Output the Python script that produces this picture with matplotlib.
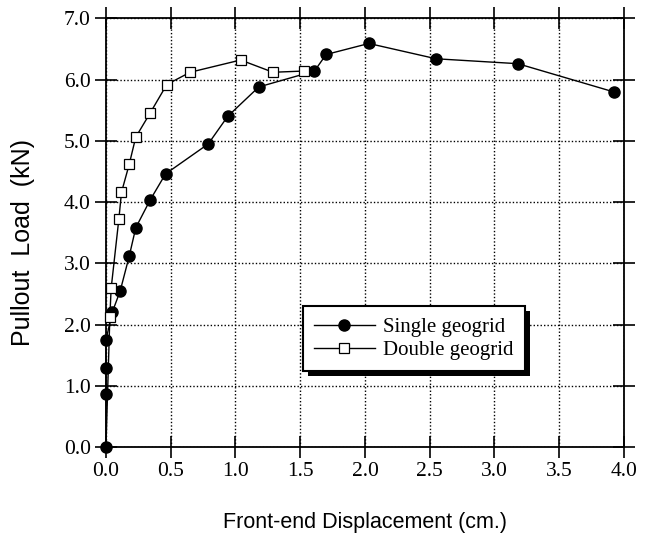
import matplotlib
matplotlib.use("Agg")
import matplotlib.pyplot as plt
from matplotlib.patches import Rectangle

# single geogrid (filled circles)
single_x = [0.0, 0.0, 0.0, 0.0, 0.05, 0.11, 0.18, 0.23, 0.34, 0.46, 0.79, 0.94, 1.18, 1.61, 1.70, 2.03, 2.55, 3.18, 3.92]
single_y = [0.0, 0.86, 1.29, 1.75, 2.21, 2.55, 3.12, 3.58, 4.03, 4.46, 4.95, 5.40, 5.88, 6.14, 6.41, 6.59, 6.34, 6.26, 5.80]

# double geogrid (open squares)
double_x = [0.0, 0.03, 0.04, 0.10, 0.12, 0.18, 0.23, 0.34, 0.47, 0.65, 1.04, 1.29, 1.53]
double_y = [0.0, 2.12, 2.59, 3.73, 4.16, 4.62, 5.06, 5.45, 5.92, 6.12, 6.32, 6.12, 6.14]

x_ticks = [0.0, 0.5, 1.0, 1.5, 2.0, 2.5, 3.0, 3.5, 4.0]
y_ticks = [0.0, 1.0, 2.0, 3.0, 4.0, 5.0, 6.0, 7.0]

serif = "Liberation Serif"
sans = "Liberation Sans"

fig = plt.figure(figsize=(6.5, 5.4), dpi=100)
ax = fig.add_axes([0.163, 0.172, 0.797, 0.794])

ax.plot(single_x, single_y, color="black", lw=1.0, marker="o", ms=8,
        mfc="black", mec="black", clip_on=False, zorder=3, label="Single geogrid")
ax.plot(double_x[1:], double_y[1:], color="black", lw=1.0, marker="s", ms=7.5,
        mfc="white", mec="black", mew=0.9, clip_on=False, zorder=3, label="Double geogrid")
# the double curve starts at the origin without a marker
ax.plot(double_x[:2], double_y[:2], color="black", lw=1.0, zorder=2)

ax.set_xlim(0, 4.0)
ax.set_ylim(0, 7.0)
ax.set_xticks(x_ticks)
ax.set_yticks(y_ticks)
ax.set_xticklabels([f"{v:.1f}" for v in x_ticks], family=serif, fontsize=15.5)
ax.set_yticklabels([f"{v:.1f}" for v in y_ticks], family=serif, fontsize=15.5)

ax.grid(True, color="black", linestyle=(0, (1, 1.5)), linewidth=1.0)
ax.tick_params(direction="inout", length=16, width=1.2, top=True, right=True,
               pad=3, colors="black")
for s in ax.spines.values():
    s.set_linewidth(1.3)

ax.set_xlabel("Front-end Displacement (cm.)", family=sans, fontsize=15.5, labelpad=22)
ax.set_ylabel("Pullout  Load  (kN)", family=sans, fontsize=18)
ax.yaxis.set_label_coords(-0.137, 0.478)

leg = ax.legend(loc="upper left", bbox_to_anchor=(0.380, 0.329), borderaxespad=0,
                prop={"family": serif, "size": 15}, frameon=True, fancybox=False,
                handlelength=2.9, handletextpad=0.4, labelspacing=0.15,
                borderpad=0.55, framealpha=1)
leg.get_frame().set_edgecolor("black")
leg.get_frame().set_linewidth(1.5)
leg.set_zorder(6)

# black drop shadow under the legend box
fig.canvas.draw()
bb = leg.get_frame().get_window_extent().transformed(fig.transFigure.inverted())
dx, dy = 5 / 650, 5 / 540
shadow = Rectangle((bb.x0 + dx, bb.y0 - dy), bb.width, bb.height,
                   transform=fig.transFigure, facecolor="black", edgecolor="none", zorder=5)
fig.add_artist(shadow)
leg.remove()
fig.add_artist(leg)

fig.savefig("out.png", dpi=100)
